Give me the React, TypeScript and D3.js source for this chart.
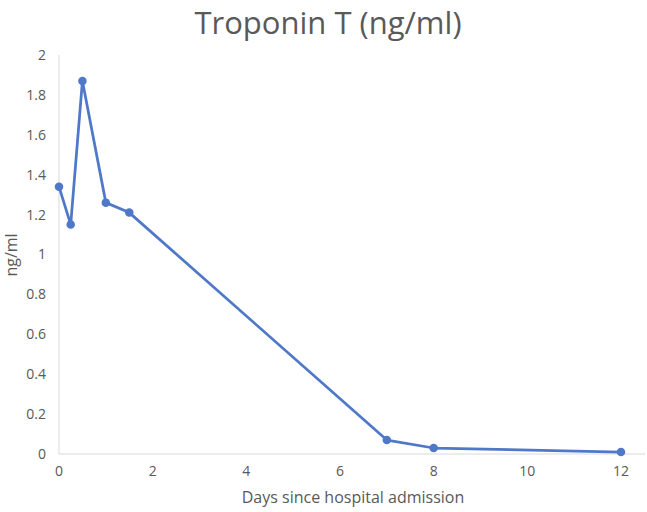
import React from "react";
import * as d3 from "d3";

// Troponin T readings over days since admission
const days: number[] = [0, 0.25, 0.5, 1, 1.5, 7, 8, 12];
const troponin: number[] = [1.34, 1.15, 1.87, 1.26, 1.21, 0.07, 0.03, 0.01];
const xTicks: number[] = [0, 2, 4, 6, 8, 10, 12];
const yTicks: number[] = [0, 0.2, 0.4, 0.6, 0.8, 1, 1.2, 1.4, 1.6, 1.8, 2];

const App: React.FC = () => {
    const width = 647;
    const height = 512;
    const left = 59;
    const right = 621;
    const top = 55;
    const bottom = 454;
    const font = "'Open Sans', 'Noto Sans', sans-serif";

    const xScale = d3.scaleLinear().domain([0, 12]).range([left, right]);
    const yScale = d3.scaleLinear().domain([0, 2]).range([bottom, top]);

    const points = days.map((d, i) => [d, troponin[i]] as [number, number]);
    const line = d3.line<[number, number]>()
        .x(d => xScale(d[0]))
        .y(d => yScale(d[1]));

    return (
        <svg width={width} height={height} style={{ position: "absolute", left: 0, top: 0, background: "#fff" }}>
            {/* Title */}
            <text x={328} y={34} textAnchor="middle" fontFamily={font} fontSize={31} fill="#595959">
                Troponin T (ng/ml)
            </text>

            {/* Axis lines */}
            <line x1={left} y1={top} x2={left} y2={bottom} stroke="#d9d9d9" strokeWidth={1} />
            <line x1={left} y1={bottom} x2={645} y2={bottom} stroke="#d9d9d9" strokeWidth={1} />

            {/* Y tick labels */}
            {yTicks.map(t => (
                <text key={`y-${t}`} x={46} y={yScale(t)} dy="0.35em" textAnchor="end"
                    fontFamily={font} fontSize={14} fill="#595959">
                    {t}
                </text>
            ))}

            {/* X tick labels */}
            {xTicks.map(t => (
                <text key={`x-${t}`} x={xScale(t)} y={476} textAnchor="middle"
                    fontFamily={font} fontSize={14} fill="#595959">
                    {t}
                </text>
            ))}

            {/* Axis titles */}
            <text x={353} y={503} textAnchor="middle" fontFamily={font} fontSize={16} fill="#595959">
                Days since hospital admission
            </text>
            <text transform={`translate(17,255) rotate(-90)`} textAnchor="middle"
                fontFamily={font} fontSize={16} fill="#595959">
                ng/ml
            </text>

            {/* Series */}
            <path d={line(points) ?? ""} fill="none" stroke="#4f78c8" strokeWidth={2.75} strokeLinejoin="round" />
            {points.map((p, i) => (
                <circle key={i} cx={xScale(p[0])} cy={yScale(p[1])} r={4.25} fill="#4f78c8" />
            ))}
        </svg>
    );
};

export default App;
